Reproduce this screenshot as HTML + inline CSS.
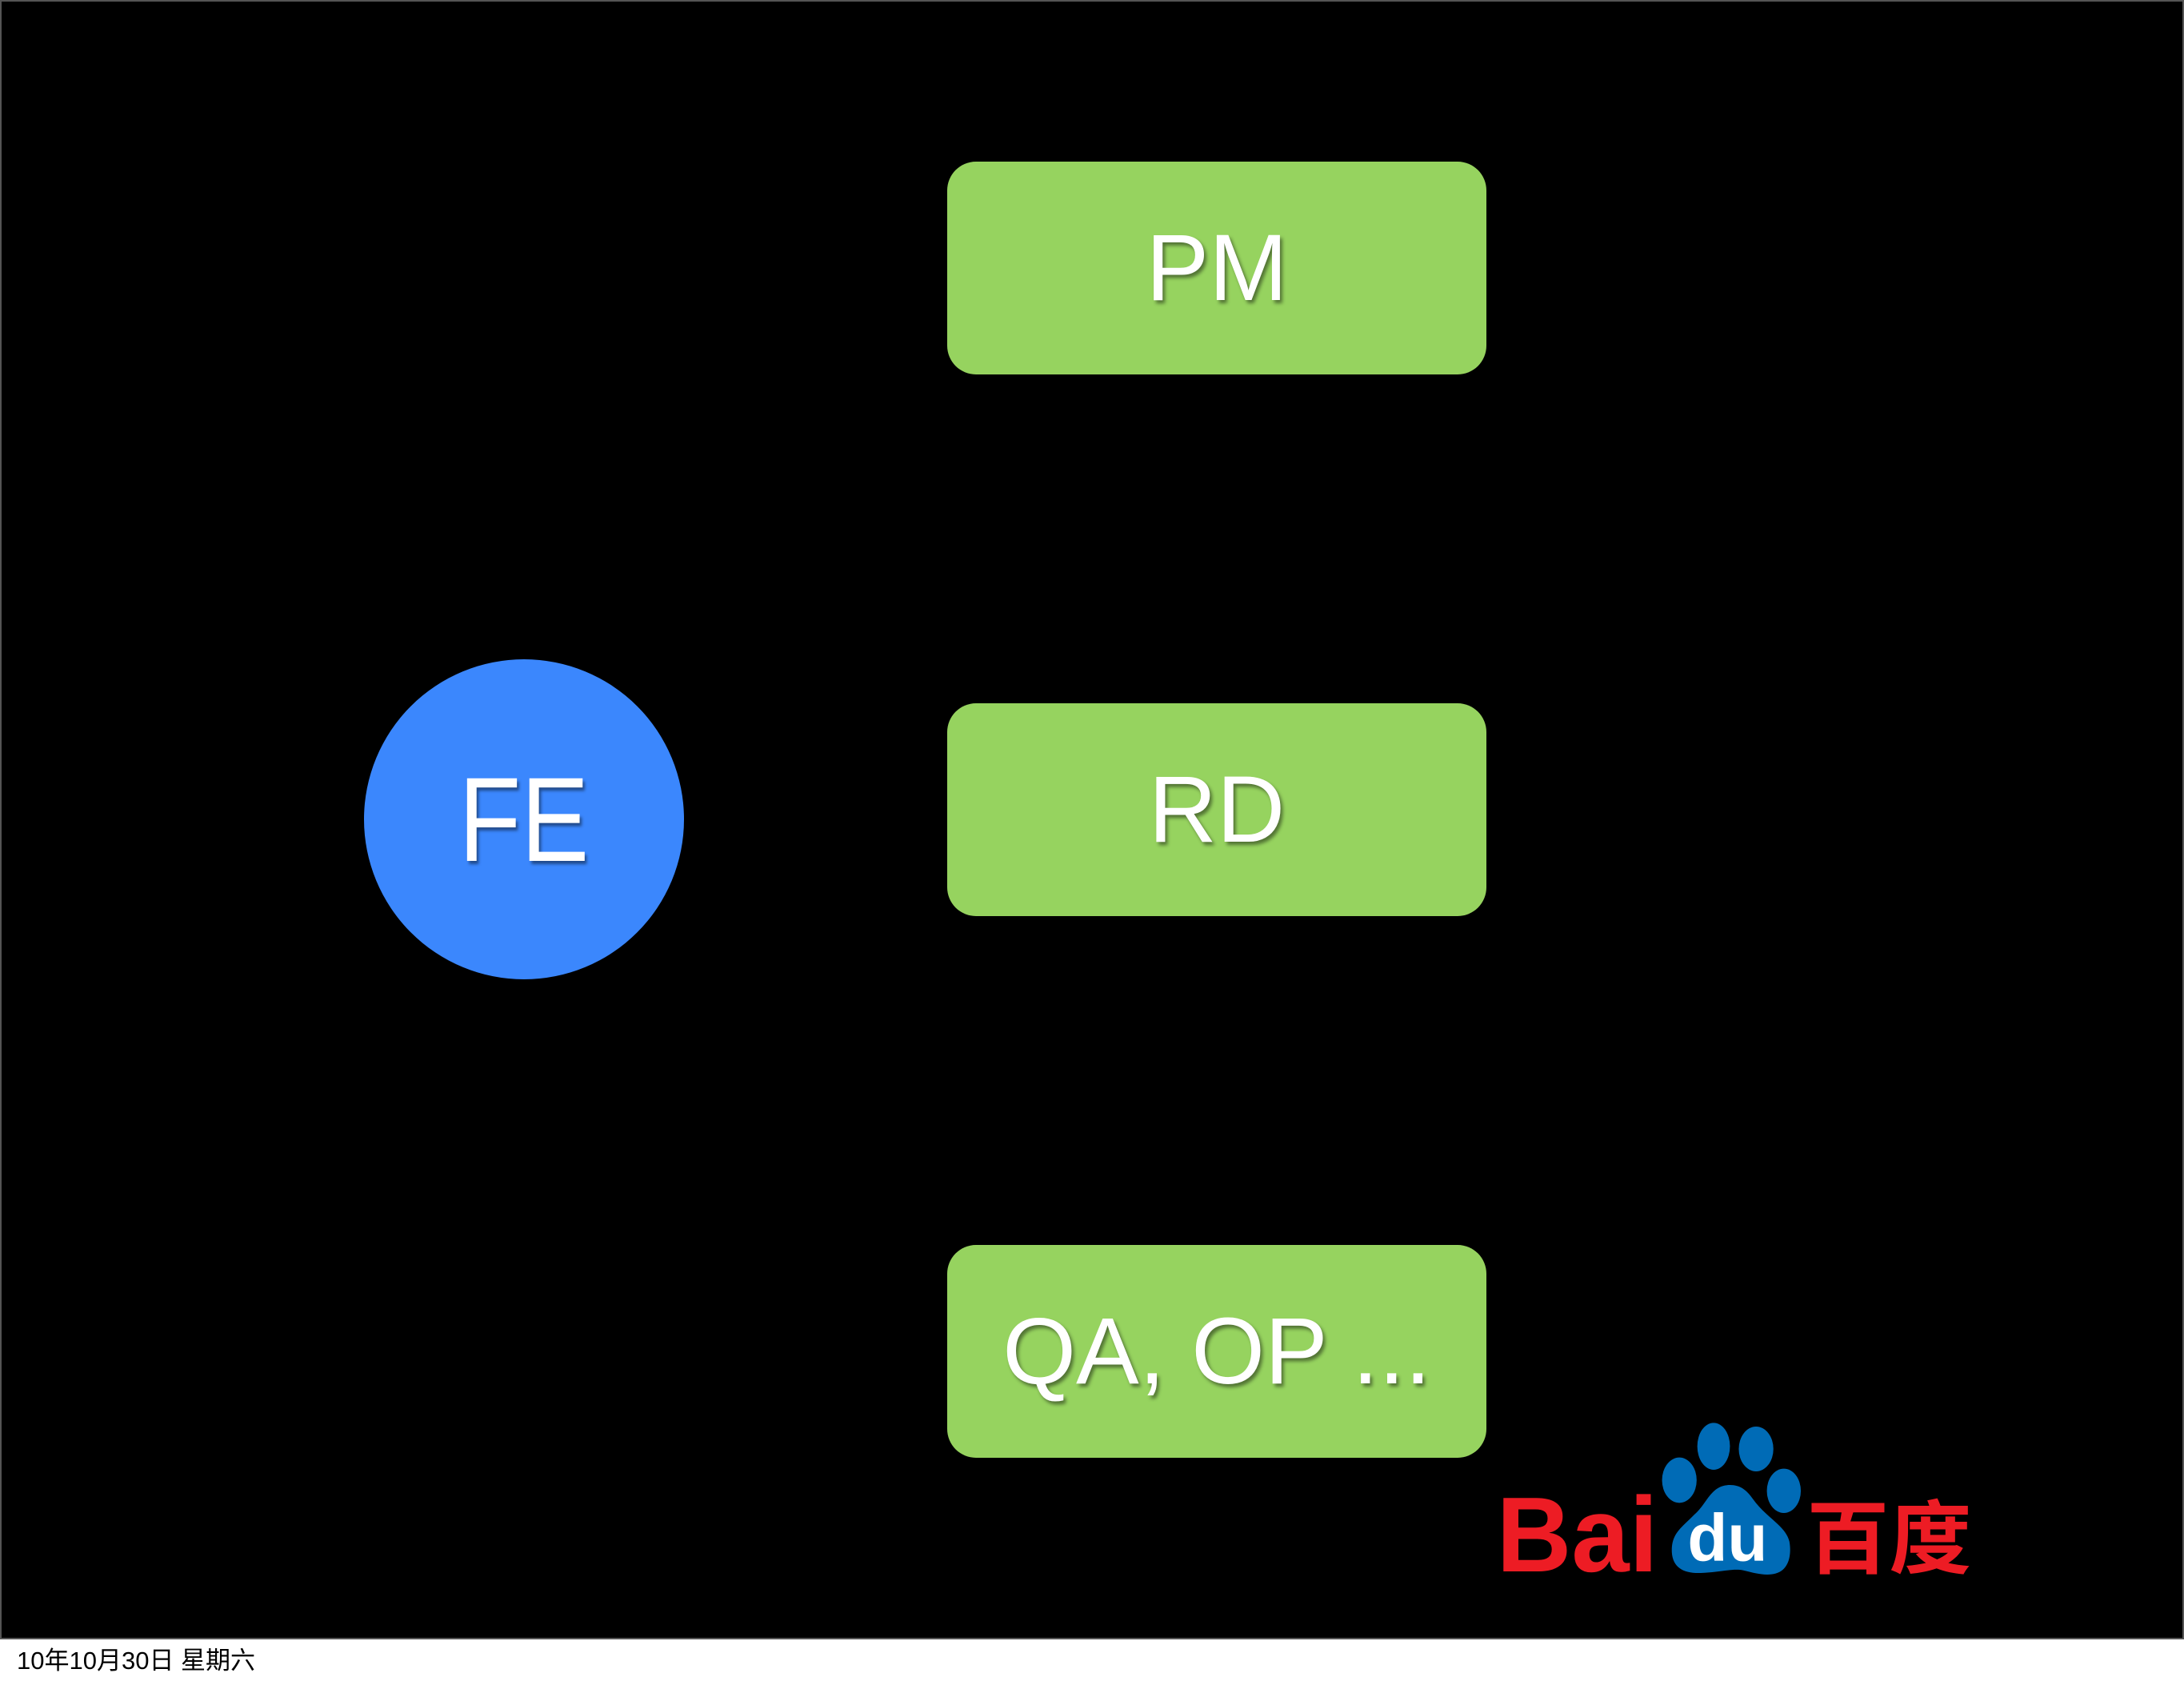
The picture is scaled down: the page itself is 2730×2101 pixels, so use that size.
<!DOCTYPE html>
<html><head><meta charset="utf-8"><style>
html,body{margin:0;padding:0;width:2730px;height:2101px;background:#fff;overflow:hidden}
#stage{position:absolute;left:0;top:0;width:2726px;height:2045px;background:#000;border:2px solid #555}
.box{position:absolute;left:1184px;width:674px;height:266px;background:#96d35f;border-radius:36px;color:#fff;font-family:"Liberation Sans",sans-serif;font-size:118px;display:flex;align-items:center;justify-content:center;text-shadow:3px 4px 4px rgba(0,0,0,.45)}
#fe{position:absolute;left:455px;top:824px;width:400px;height:400px;border-radius:50%;background:#3b87fd;color:#fff;font-family:"Liberation Sans",sans-serif;font-size:150px;display:flex;align-items:center;justify-content:center;text-shadow:3px 4px 4px rgba(0,0,0,.45)}
#fe span{display:inline-block;transform:scaleX(0.85)}
#date{position:absolute;left:21px;top:2050px;font-family:"Liberation Sans","Noto Sans CJK SC",sans-serif;font-size:31px;color:#000}
</style></head><body>
<div id="stage"></div>
<div class="box" style="top:202px">PM</div>
<div class="box" style="top:879px">RD</div>
<div class="box" style="top:1556px">QA, OP ...</div>
<div id="fe"><span>FE</span></div>
<svg style="position:absolute;left:1840px;top:1740px" width="640" height="360" viewBox="0 0 1568 1080" preserveAspectRatio="none">
<text x="75" y="672" font-family="Liberation Sans,sans-serif" font-weight="bold" font-size="400" fill="#ed1c24" textLength="495" lengthAdjust="spacingAndGlyphs">Bai</text>
<ellipse cx="740" cy="203" rx="50" ry="88" fill="#006bb6"/>
<ellipse cx="870" cy="213" rx="53" ry="84" fill="#006bb6"/>
<ellipse cx="635" cy="330" rx="53" ry="85" fill="#006bb6"/>
<ellipse cx="955" cy="370" rx="52" ry="83" fill="#006bb6"/>
<path d="M790 348 C730 348 720 420 680 460 C640 510 610 530 612 600 C615 660 650 680 700 678 C760 675 800 660 830 668 C870 680 900 690 930 680 C975 665 978 600 972 560 C960 500 900 470 860 400 C840 365 820 348 790 348Z" fill="#006bb6"/>
<text x="660" y="632" font-family="Liberation Sans,sans-serif" font-weight="bold" font-size="250" fill="#fff" textLength="245" lengthAdjust="spacingAndGlyphs">du</text>
<text x="1025" y="655" font-family="Noto Sans CJK SC,sans-serif" font-weight="bold" font-size="300" fill="#ed1c24" textLength="505" lengthAdjust="spacingAndGlyphs">百度</text>
</svg>
<div id="date">10年10月30日 星期六</div>
</body></html>
